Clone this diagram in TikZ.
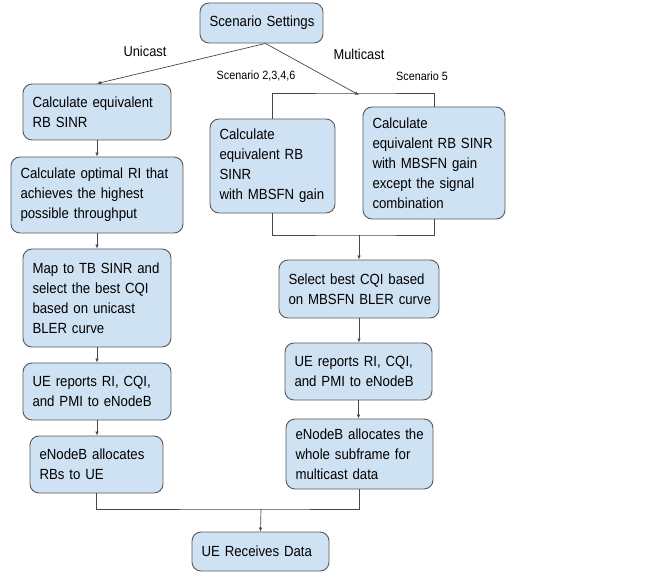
\documentclass[tikz,border=0pt]{standalone}
\usepackage{fontspec}
\setmainfont[FakeStretch=0.9]{Liberation Sans}
\usetikzlibrary{arrows.meta}
\definecolor{boxfill}{HTML}{CFE2F3}
\definecolor{boxline}{HTML}{595959}
\newcommand{\bx}[7]{% name, x1,y1,x2,y2, text, extra
  \node[box,minimum width={#4-#2},minimum height={#5-#3},text width={#4-#2-19},#7] (#1) at ({(#2+#4)/2},{(#3+#5)/2}) {#6};}
\newcommand{\tl}[1]{\mbox{#1}}
\begin{document}
\begin{tikzpicture}[x=1pt,y=-1pt,
  box/.style={draw=boxline,fill=boxfill,line width=0.9pt,rounded corners=9pt,
    inner xsep=9.5pt,inner ysep=0pt,align=left,font=\fontsize{14.7}{20}\selectfont},
  conn/.style={draw=boxline!80!black,line width=0.7pt},
  arr/.style={conn,-{Latex[length=4pt,width=3.5pt]}},
  lbl/.style={font=\fontsize{14.3}{15}\selectfont,inner sep=0pt},
  slbl/.style={font=\fontsize{12}{13}\selectfont,inner sep=0pt}]
\useasboundingbox (0,0) rectangle (662,572);
\bx{top}{200}{3}{323}{43}{\tl{Scenario Settings}}{align=center}
\bx{b1}{23}{84}{171}{140}{\tl{Calculate equivalent}\\\tl{RB SINR}}{}
\bx{b2}{11}{157}{183}{233}{\tl{Calculate optimal RI that}\\\tl{achieves the highest}\\\tl{possible throughput}}{}
\bx{b3}{23}{249}{171}{347}{\tl{Map to TB SINR and}\\\tl{select the best CQI}\\\tl{based on unicast}\\\tl{BLER curve}}{}
\bx{b4}{23}{363}{171}{420}{\tl{UE reports RI, CQI,}\\\tl{and PMI to eNodeB}}{}
\bx{b5}{30}{436}{163}{493}{\tl{eNodeB allocates}\\\tl{RBs to UE}}{}
\bx{mid}{210}{119}{335}{213}{\tl{Calculate}\\\tl{equivalent RB}\\\tl{SINR}\\\tl{with MBSFN gain}}{}
\bx{rt}{363}{107}{505}{219}{\tl{Calculate}\\\tl{equivalent RB SINR}\\\tl{with MBSFN gain}\\\tl{except the signal}\\\tl{combination}}{}
\bx{r2}{279}{260}{439}{318}{\tl{Select best CQI based}\\\tl{on MBSFN BLER curve}}{}
\bx{r3}{285}{343}{432}{400}{\tl{UE reports RI, CQI,}\\\tl{and PMI to eNodeB}}{}
\bx{r4}{286}{419}{433}{489}{\tl{eNodeB allocates the}\\\tl{whole subframe for}\\\tl{multicast data}}{}
\bx{fin}{192}{532}{329}{571}{\tl{UE Receives Data}}{}
\node[lbl] (uni) at (145,51) {Unicast};
\node[lbl] (mul) at (359,54) {Multicast};
\node[slbl] (s1) at (256,76) {Scenario 2,3,4,6};
\node[slbl] (s2) at (422,76) {Scenario 5};
\coordinate (ms) at (359,93);
\coordinate (mj) at (359,235);
\coordinate (fj) at (261,509);
\draw[arr] ([xshift=4pt]top.south) -- (b1.north);
\draw[arr] ([xshift=4pt]top.south) -- ([yshift=-2pt]ms);
\draw[conn] (mid.north) |- (ms) -| (rt.north);
\draw[arr] (b1) -- (b2);
\draw[arr] (b2) -- (b3);
\draw[arr] (b3) -- (b4);
\draw[arr] (b4) -- (b5.north -| b4.south);
\draw[conn] (mid.south) |- (mj) -| (rt.south);
\draw[arr] (mj) -- (r2.north);
\draw[arr] (r2.south) -- (r2.south |- r3.north);
\draw[arr] (r3.south) -- (r3.south |- r4.north);
\draw[conn] (b5.south) |- (fj) -| (r4.south);
\draw[arr] (fj) -- (fin.north);
\end{tikzpicture}
\end{document}
